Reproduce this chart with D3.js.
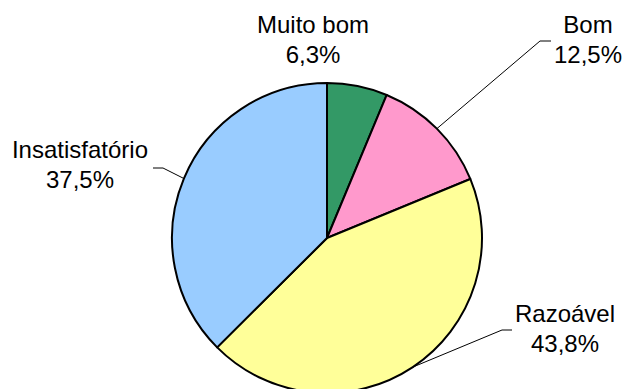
<!DOCTYPE html>
<html><head><meta charset="utf-8">
<script src="https://cdn.jsdelivr.net/npm/d3@7"></script>
<style>body{margin:0;background:#fff}svg{display:block}</style>
</head><body>
<svg id="c" width="626" height="389"></svg>
<script>
const categories = ["Muito bom", "Bom", "Razoável", "Insatisfatório"];
const values = [6.3, 12.5, 43.8, 37.5];
const valueLabels = ["6,3%", "12,5%", "43,8%", "37,5%"];
const colors = ["#339966", "#FF99CC", "#FFFF99", "#99CCFF"];

const svg = d3.select("#c");
const cx = 327, cy = 238, r = 155;
const g = svg.append("g").attr("transform", `translate(${cx},${cy})`);
const pie = d3.pie().sort(null).value(d => d)(values);
const arc = d3.arc().innerRadius(0).outerRadius(r);

g.selectAll("path.slice").data(pie).join("path")
  .attr("class", "slice")
  .attr("d", arc)
  .attr("fill", (d, i) => colors[i])
  .attr("stroke", "#000")
  .attr("stroke-width", 2)
  .attr("stroke-linejoin", "round");

// label layout (positions relative to page)
const layout = [
  { tx: 313, ty: 33, line: null },
  { tx: 588, ty: 33, line: { elbow: [540, 41], end: [551, 41] } },
  { tx: 565, ty: 322, line: { elbow: [502, 330], end: [512, 330] } },
  { tx: 80, ty: 158, line: { elbow: [163, 168], end: [153, 168] } }
];

pie.forEach((d, i) => {
  const L = layout[i];
  if (L.line) {
    const a = (d.startAngle + d.endAngle) / 2;
    const sx = cx + r * Math.sin(a), sy = cy - r * Math.cos(a);
    svg.append("polyline")
      .attr("points", [[sx, sy], L.line.elbow, L.line.end].map(p => p.join(",")).join(" "))
      .attr("fill", "none").attr("stroke", "#000").attr("stroke-width", 1);
  }
  const t = svg.append("text")
    .attr("x", L.tx).attr("y", L.ty)
    .attr("text-anchor", "middle")
    .attr("font-family", "Liberation Sans, Arial, sans-serif")
    .attr("font-size", 24)
    .attr("fill", "#000");
  t.append("tspan").attr("x", L.tx).text(categories[i]);
  t.append("tspan").attr("x", L.tx).attr("dy", 30).text(valueLabels[i]);
});
</script>
</body></html>
